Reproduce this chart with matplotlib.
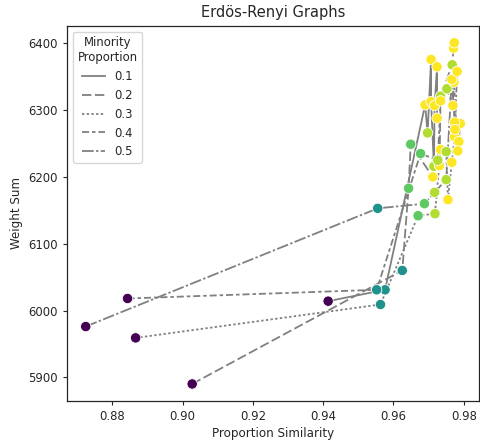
import numpy as np
import matplotlib
matplotlib.use("Agg")
import matplotlib.pyplot as plt

# minority proportion groups, each a run of (similarity, weight sum, hue) points
proportions = ["0.1", "0.2", "0.3", "0.4", "0.5"]

sim_01 = [0.9414, 0.9576, 0.9690, 0.9697, 0.9707, 0.9707, 0.9715, 0.9717, 0.9724, 0.9724]
ws_01 = [6014, 6031, 6308, 6266, 6376, 6313, 6216, 6307, 6365, 6288]
hue_01 = [0.0, 0.5, 1.0, 0.88, 1.0, 1.0, 0.88, 1.0, 1.0, 1.0]

sim_02 = [0.9027, 0.9625, 0.9643, 0.9649, 0.9712, 0.9731, 0.9734, 0.9767, 0.9771, 0.9773]
ws_02 = [5890, 6060, 6183, 6249, 6200, 6217, 6321, 6368, 6393, 6401]
hue_02 = [0.0, 0.5, 0.75, 0.75, 1.0, 1.0, 0.88, 0.88, 1.0, 1.0]

sim_03 = [0.8866, 0.9563, 0.9670, 0.9718, 0.9734, 0.9750, 0.9755, 0.9766, 0.9774, 0.9786]
ws_03 = [5959, 6009, 6142, 6145, 6241, 6238, 6166, 6222, 6260, 6253]
hue_03 = [0.0, 0.5, 0.75, 0.88, 1.0, 0.88, 1.0, 1.0, 1.0, 1.0]

sim_04 = [0.8843, 0.9552, 0.9677, 0.9726, 0.9734, 0.9752, 0.9769, 0.9772, 0.9783, 0.9790]
ws_04 = [6018, 6031, 6235, 6225, 6314, 6332, 6307, 6342, 6239, 6280]
hue_04 = [0.0, 0.5, 0.75, 0.88, 1.0, 0.88, 1.0, 1.0, 1.0, 1.0]

sim_05 = [0.8724, 0.9555, 0.9688, 0.9717, 0.9750, 0.9766, 0.9774, 0.9775, 0.9781]
ws_05 = [5976, 6153, 6160, 6177, 6196, 6346, 6282, 6271, 6358]
hue_05 = [0.0, 0.5, 0.75, 0.88, 0.88, 1.0, 1.0, 1.0, 1.0]

sims = [sim_01, sim_02, sim_03, sim_04, sim_05]
wsums = [ws_01, ws_02, ws_03, ws_04, ws_05]
hues = [hue_01, hue_02, hue_03, hue_04, hue_05]

# seaborn-like default dash patterns
dashes = [(None, None), (4, 1.5), (1, 1), (3, 1.25, 1.5, 1.25), (5, 1, 1, 1)]

plt.rcParams['font.family'] = ['DejaVu Sans']
plt.rcParams['text.color'] = '#262626'
plt.rcParams['axes.labelcolor'] = '#262626'
plt.rcParams['xtick.color'] = '#262626'
plt.rcParams['ytick.color'] = '#262626'

fig = plt.figure(figsize=(4.81, 4.40), dpi=100)
ax = fig.add_axes([0.1393, 0.0886, 0.8565, 0.853])

handles = []
for i, lab in enumerate(proportions):
    x = np.array(sims[i])
    y = np.array(wsums[i])
    order = np.argsort(x, kind="stable")
    line, = ax.plot(x[order], y[order], color='grey', lw=1.3, label=lab, zorder=1)
    if dashes[i][0] is not None:
        line.set_dashes([d * 1.3 for d in dashes[i]])
    handles.append(line)

all_x = np.concatenate([np.array(s) for s in sims])
all_y = np.concatenate([np.array(w) for w in wsums])
all_h = np.concatenate([np.array(h) for h in hues])
ax.scatter(all_x, all_y, c=all_h, cmap='viridis', vmin=0, vmax=1, s=56,
           edgecolors='white', linewidths=0.6, zorder=3)

ax.set_xticks([0.88, 0.90, 0.92, 0.94, 0.96, 0.98])
ax.set_yticks([5900, 6000, 6100, 6200, 6300, 6400])
ax.tick_params(labelsize=8.4, length=3, width=0.8)
for sp in ax.spines.values():
    sp.set_color('#262626')
    sp.set_linewidth(0.9)

ax.set_xlabel("Proportion Similarity", fontsize=8.6, labelpad=3)
ax.set_ylabel("Weight Sum", fontsize=8.6, labelpad=4)
ax.set_title("Erdös-Renyi Graphs", fontsize=10.5, pad=6)

leg = ax.legend(handles=handles, title="Minority\nProportion", loc='upper left',
                fontsize=8.4, title_fontsize=8.4, handlelength=2.0, frameon=True)
leg.get_title().set_multialignment('center')

fig.savefig("out.png", dpi=100)
